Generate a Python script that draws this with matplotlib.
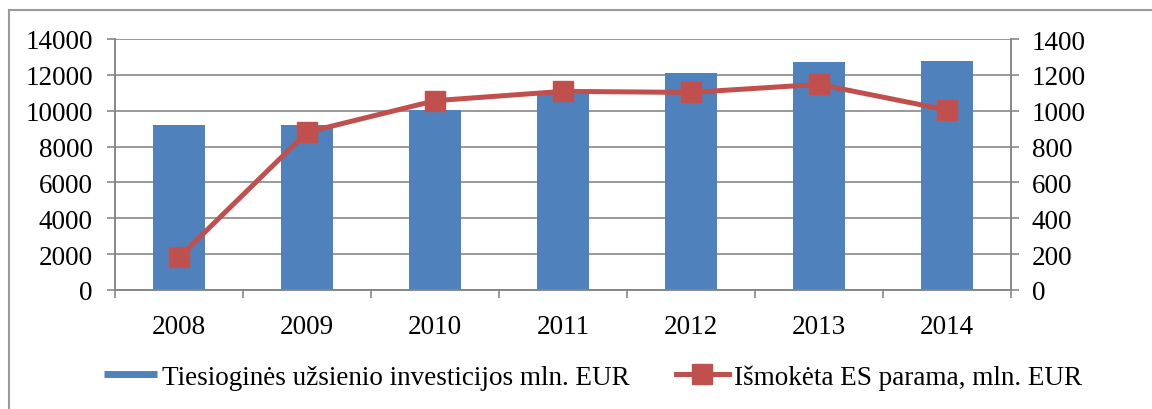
import matplotlib.pyplot as plt
from matplotlib.lines import Line2D

plt.rcParams['font.family'] = ['Liberation Serif', 'DejaVu Serif']

years = ["2008", "2009", "2010", "2011", "2012", "2013", "2014"]
investicijos = [9200, 9200, 10050, 10930, 12100, 12730, 12750]
parama = [182, 880, 1056, 1108, 1102, 1147, 1004]

bar_color = "#4F81BD"
line_color = "#C0504D"
grid_color = "#878787"
fs = 19.5

fig = plt.figure(figsize=(11.52, 4.10), dpi=100)
ax = fig.add_axes([115 / 1152, 1 - 291 / 410, (1011 - 115) / 1152, (291 - 40) / 410])

x = list(range(len(years)))
ax.bar(x, investicijos, width=0.4, color=bar_color, zorder=2)
ax.set_xlim(-0.5, len(years) - 0.5)
ax.set_ylim(0, 14000)
ax.set_yticks(range(0, 14001, 2000))
ax.grid(axis="y", color=grid_color, linewidth=1.2, zorder=0)
ax.set_axisbelow(True)

ax.set_xticks(x)
ax.set_xticklabels(years)
ax.set_xticks([i - 0.5 for i in range(len(years) + 1)], minor=True)
ax.tick_params(axis="x", which="major", length=0, pad=17, labelsize=fs)
ax.tick_params(axis="x", which="minor", length=6, width=1.2, color=grid_color, direction="out")
ax.tick_params(axis="y", length=6, width=1.2, color=grid_color, pad=10, labelsize=fs)

ax2 = ax.twinx()
ax2.plot(x, parama, color=line_color, linewidth=3.6, marker="s", markersize=14,
         markeredgecolor=line_color, zorder=3)
ax2.set_ylim(0, 1400)
ax2.set_yticks(range(0, 1401, 200))
ax2.tick_params(axis="y", length=6, width=1.2, color=grid_color, pad=9, labelsize=fs)

for a in (ax, ax2):
    for s in a.spines.values():
        s.set_color(grid_color)
        s.set_linewidth(1.2)
    a.spines["top"].set_visible(False)

handles = [
    Line2D([0], [0], color=bar_color, linewidth=5, solid_capstyle="butt"),
    Line2D([0], [0], color=line_color, linewidth=3.6, marker="s", markersize=14),
]
labels = ["Tiesioginės užsienio investicijos mln. EUR", "Išmokėta ES parama, mln. EUR"]
fig.legend(handles, labels, loc="center", bbox_to_anchor=(593 / 1152, 1 - 378 / 410),
           ncol=2, frameon=False, fontsize=fs, handlelength=1.95, handletextpad=0.2,
           columnspacing=1.7)

# chart border
fig.add_artist(Line2D([9 / 1152, 9 / 1152], [0, 1 - 11 / 410], color="#9a9a9a", linewidth=1.5))
fig.add_artist(Line2D([9 / 1152, 1], [1 - 11 / 410, 1 - 11 / 410], color="#9a9a9a", linewidth=1.5))

fig.savefig("out.png", dpi=100)
